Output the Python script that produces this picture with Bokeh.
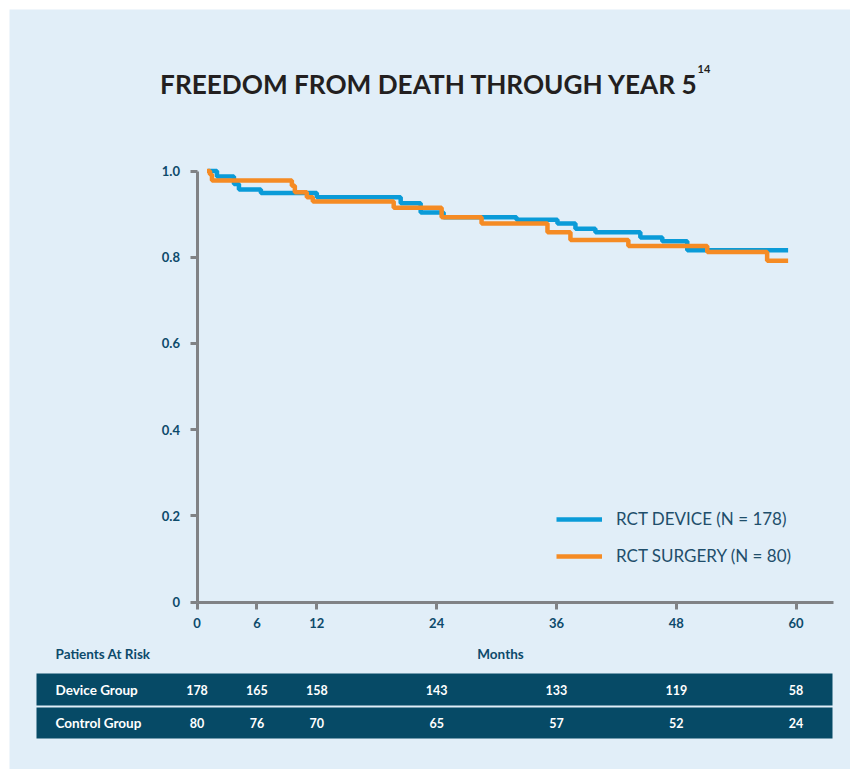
from bokeh.plotting import figure
from bokeh.models import (Range1d, FixedTicker, Legend, LegendItem, LinearAxis,
                          CustomJSTickFormatter)
from bokeh.embed import file_html
from bokeh.resources import INLINE
from bokeh.core.properties import value

# ---------------- data ----------------
device_t = [1.1, 2.0, 3.7, 4.2, 6.4, 12.0, 20.4, 22.4, 24.7, 32.0, 36.1, 37.9, 39.9, 44.4, 46.6, 49.1, 59.2]
device_s = [1.0, 0.987, 0.970, 0.957, 0.949, 0.939, 0.925, 0.904, 0.893, 0.887, 0.878, 0.866, 0.858, 0.846, 0.837, 0.816, 0.816]
surgery_t = [1.0, 1.3, 1.5, 9.5, 9.8, 11.0, 11.6, 19.7, 24.5, 28.5, 35.1, 37.4, 43.2, 51.1, 57.1, 59.2]
surgery_s = [1.0, 0.992, 0.978, 0.966, 0.951, 0.939, 0.929, 0.915, 0.893, 0.878, 0.858, 0.840, 0.826, 0.812, 0.792, 0.792]

x_ticks = [0, 6, 12, 24, 36, 48, 60]
y_ticks = [0, 0.2, 0.4, 0.6, 0.8, 1.0]

risk_months = [0, 6, 12, 24, 36, 48, 60]
device_risk = [178, 165, 158, 143, 133, 119, 58]
control_risk = [80, 76, 70, 65, 57, 52, 24]

series_labels = ["RCT DEVICE (N = 178)", "RCT SURGERY (N = 80)"]
row_labels = ["Device Group", "Control Group"]
title_text = "FREEDOM FROM DEATH THROUGH YEAR 5"
title_sup = "14"

# ---------------- style ----------------
BG = "#E1EEF8"
BLUE = "#0A9BD8"
ORANGE = "#F58B24"
AXIS = "#808285"
NAVY = "#0D4A6B"
TEAL = "#064A66"
DARK = "#231F20"
FONT = "Lato"
W, H = 850, 769

# pixel <-> data helpers (layout only)
X0, XS = 196.5, 9.985     # pixel of month 0, pixels per month
Y0, YS = 601.7, 431.2     # pixel of survival 0, pixels per unit
def mx(px):
    return (px - X0) / XS
def sy(py):
    return (Y0 - py) / YS

p = figure(width=W, height=H, x_range=Range1d(mx(0), mx(W)), y_range=Range1d(sy(H), sy(0)),
           x_axis_location=None, y_axis_location=None, min_border=0,
           output_backend="svg", toolbar_location=None,
           background_fill_color="white", border_fill_color="white", outline_line_color=None)
p.grid.visible = False

# light panel
p.quad(left=[mx(9)], right=[mx(W)], top=[sy(9)], bottom=[sy(H)], fill_color=BG, line_color=None)

# title
p.text(x=[mx(698)], y=[sy(83)], text=[title_text], text_align="right", text_baseline="alphabetic",
       text_font=value(FONT), text_font_style="bold", text_font_size="26.2px", text_color=DARK)
p.text(x=[mx(697)], y=[sy(64)], text=[title_sup], text_align="left", text_baseline="top",
       text_font=value(FONT), text_font_style="bold", text_font_size="11px", text_color=DARK)

# axes
xa = LinearAxis(fixed_location=0, bounds=(0, mx(833)), ticker=FixedTicker(ticks=x_ticks))
ya = LinearAxis(fixed_location=0, bounds=(0, 1.0), ticker=FixedTicker(ticks=y_ticks),
                formatter=CustomJSTickFormatter(code="return tick == 0 ? '0' : tick.toFixed(1);"))
p.add_layout(xa, "below")
p.add_layout(ya, "left")
for ax in [xa, ya]:
    ax.axis_line_color = AXIS
    ax.axis_line_width = 3
    ax.major_tick_line_color = AXIS
    ax.major_tick_line_width = 3
    ax.major_tick_out = 7
    ax.major_tick_in = 0
    ax.minor_tick_line_color = None
    ax.major_label_text_font = FONT
    ax.major_label_text_font_style = "bold"
    ax.major_label_text_font_size = "13px"
    ax.major_label_text_color = NAVY
xa.major_label_standoff = 9
ya.major_label_standoff = 10

# curves
rb = p.step(device_t, device_s, mode="after", line_width=4.5, line_color=BLUE)
ro = p.step(surgery_t, surgery_s, mode="after", line_width=4.5, line_color=ORANGE)

legend = Legend(items=[LegendItem(label=series_labels[0], renderers=[rb]),
                       LegendItem(label=series_labels[1], renderers=[ro])],
                location=(556, H - 566), padding=0, margin=0, spacing=16,
                glyph_width=46, glyph_height=20, label_height=20, label_standoff=14,
                background_fill_alpha=0, border_line_color=None,
                label_text_font=FONT, label_text_font_size="17px", label_text_color="#1F4E6B")
p.add_layout(legend)

# at-risk table
p.quad(left=[mx(36)] * 2, right=[mx(832)] * 2, top=[sy(673), sy(707)], bottom=[sy(705), sy(738)],
       fill_color=TEAL, line_color=None)
p.text(x=[mx(55)], y=[sy(653)], text=["Patients At Risk"], text_align="left", text_baseline="middle",
       text_font=value(FONT), text_font_style="bold", text_font_size="13.5px", text_color=NAVY)
p.text(x=[mx(500)], y=[sy(653)], text=["Months"], text_align="center", text_baseline="middle",
       text_font=value(FONT), text_font_style="bold", text_font_size="13.5px", text_color=NAVY)
for yy, lab, vals in [(689, row_labels[0], device_risk), (722.5, row_labels[1], control_risk)]:
    p.text(x=[mx(55)], y=[sy(yy)], text=[lab], text_align="left", text_baseline="middle",
           text_font=value(FONT), text_font_style="bold", text_font_size="13.5px", text_color="white")
    p.text(x=risk_months, y=[sy(yy)] * len(risk_months), text=[str(v) for v in vals],
           text_align="center", text_baseline="middle",
           text_font=value(FONT), text_font_style="bold", text_font_size="12.5px", text_color="white")

open("out.html", "w").write(file_html(p, INLINE))
